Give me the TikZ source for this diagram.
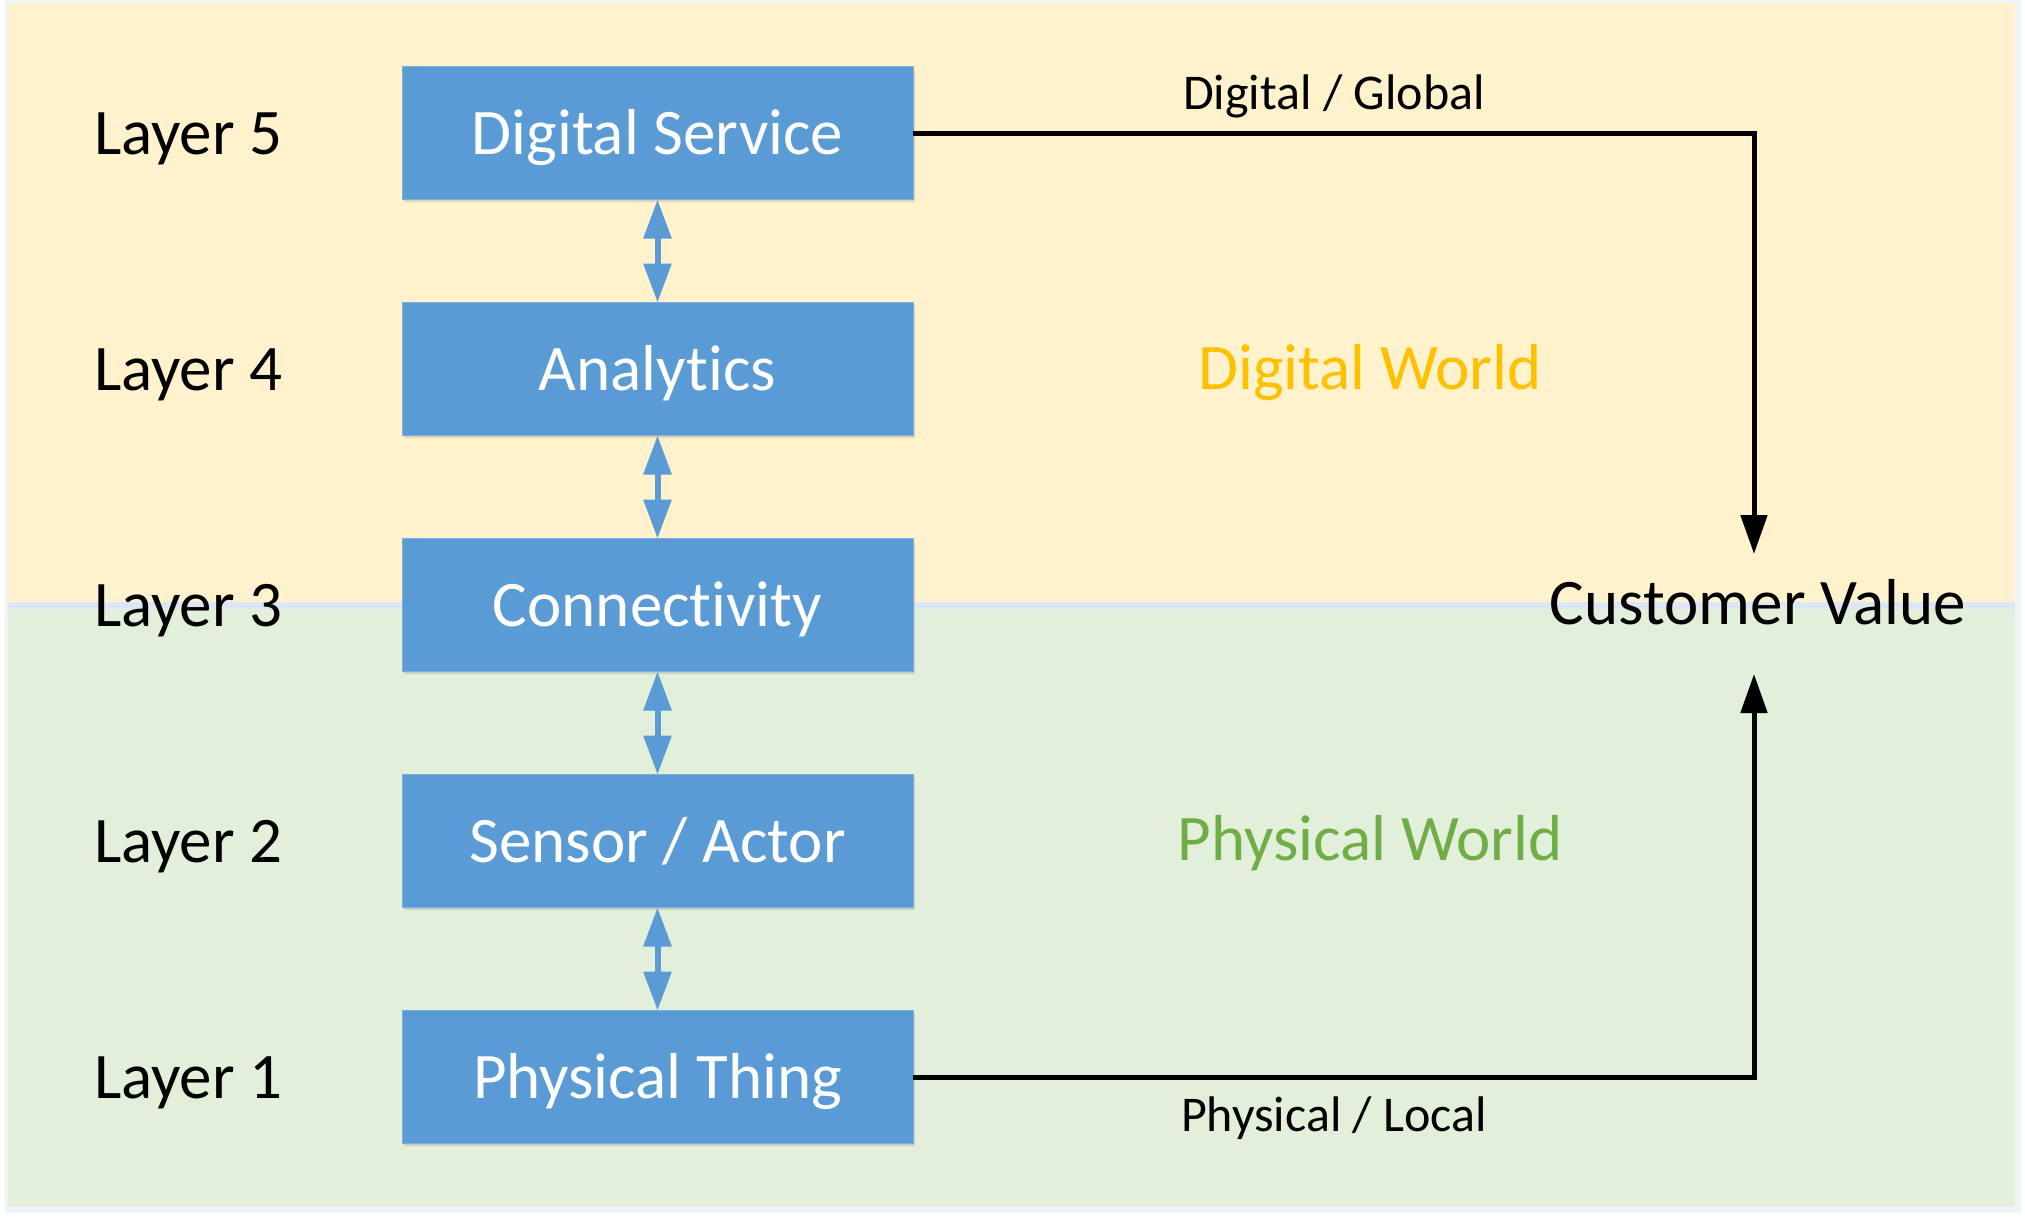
\documentclass[tikz,border=0pt]{standalone}
\usepackage{fontspec}
\setmainfont[Ligatures={NoCommon}]{Carlito}
\usetikzlibrary{arrows.meta,shadows}
\definecolor{boxblue}{HTML}{5B9BD5}
\definecolor{digibg}{HTML}{FFF2CC}
\definecolor{physbg}{HTML}{E2EFDA}
\definecolor{sepblue}{HTML}{DCE6F4}
\definecolor{edgeblue}{HTML}{F0F4FB}
\definecolor{digitxt}{HTML}{FFC000}
\definecolor{phystxt}{HTML}{70AD47}
\begin{document}
\begin{tikzpicture}[x=0.5pt,y=-0.5pt,
  bigtxt/.style={inner sep=0pt, outer sep=0pt, font=\fontsize{32.5}{39}\selectfont, text height=26pt, text depth=5pt},
  smalltxt/.style={inner sep=0pt, font=\fontsize{25}{30}\selectfont, text height=20pt, text depth=4pt},
  layerbox/.style={bigtxt, fill=boxblue, draw=boxblue!80!white, line width=0.4pt, text=white, minimum width=255.5pt, minimum height=66.5pt,
    drop shadow={shadow xshift=0.8pt, shadow yshift=-1.2pt, fill=black, opacity=0.12}},
  layerlabel/.style={bigtxt, anchor=west},
  bluearrow/.style={draw=boxblue, line width=3pt, {Triangle[length=19.5pt,width=13.5pt]}-{Triangle[length=19.5pt,width=13.5pt]}},
  valuearrow/.style={draw=black, line width=2.5pt, -{Triangle[length=19.5pt,width=13pt]}}
]
\useasboundingbox (0,0) rectangle (2025,1221);
\fill[white] (0,0) rectangle (2025,1221);
% backgrounds
\fill[edgeblue] (5,0) rectangle (2021,1213);
\fill[digibg] (8,3) rectangle (2015,602);
\fill[sepblue] (8,602) rectangle (2015,609);
\fill[physbg] (8,609) rectangle (2015,1207);

% layer boxes
\node[layerbox] (b5) at (657.5,133) {Digital Service};
\node[layerbox] (b4) at (657.5,369) {Analytics};
\node[layerbox] (b3) at (657.5,605) {Connectivity};
\node[layerbox] (b2) at (657.5,841) {Sensor / Actor};
\node[layerbox] (b1) at (657.5,1077) {Physical Thing};

% layer labels
\node[layerlabel] (l5) at (94,133) {Layer 5};
\node[layerlabel] (l4) at (94,369) {Layer 4};
\node[layerlabel] (l3) at (94,605) {Layer 3};
\node[layerlabel] (l2) at (94,841) {Layer 2};
\node[layerlabel] (l1) at (94,1077) {Layer 1};

% blue double arrows
\draw[bluearrow] (b5.south) -- (b4.north);
\draw[bluearrow] (b4.south) -- (b3.north);
\draw[bluearrow] (b3.south) -- (b2.north);
\draw[bluearrow] (b2.south) -- (b1.north);

% world labels
\node[bigtxt, text=digitxt] (dw) at (1370,368) {Digital World};
\node[bigtxt, text=phystxt] (pw) at (1370,839) {Physical World};
\node[bigtxt] (cv) at (1758,603) {Customer Value};

% customer value arrows
\coordinate (cvtop) at (1754,554);
\coordinate (cvbot) at (1754,674);
\draw[valuearrow] (b5.east) -| (cvtop);
\draw[valuearrow] (b1.east) -| (cvbot);
\node[smalltxt] (dg) at (1334,93) {Digital / Global};
\node[smalltxt] (pl) at (1334,1115) {Physical / Local};
\end{tikzpicture}
\end{document}
